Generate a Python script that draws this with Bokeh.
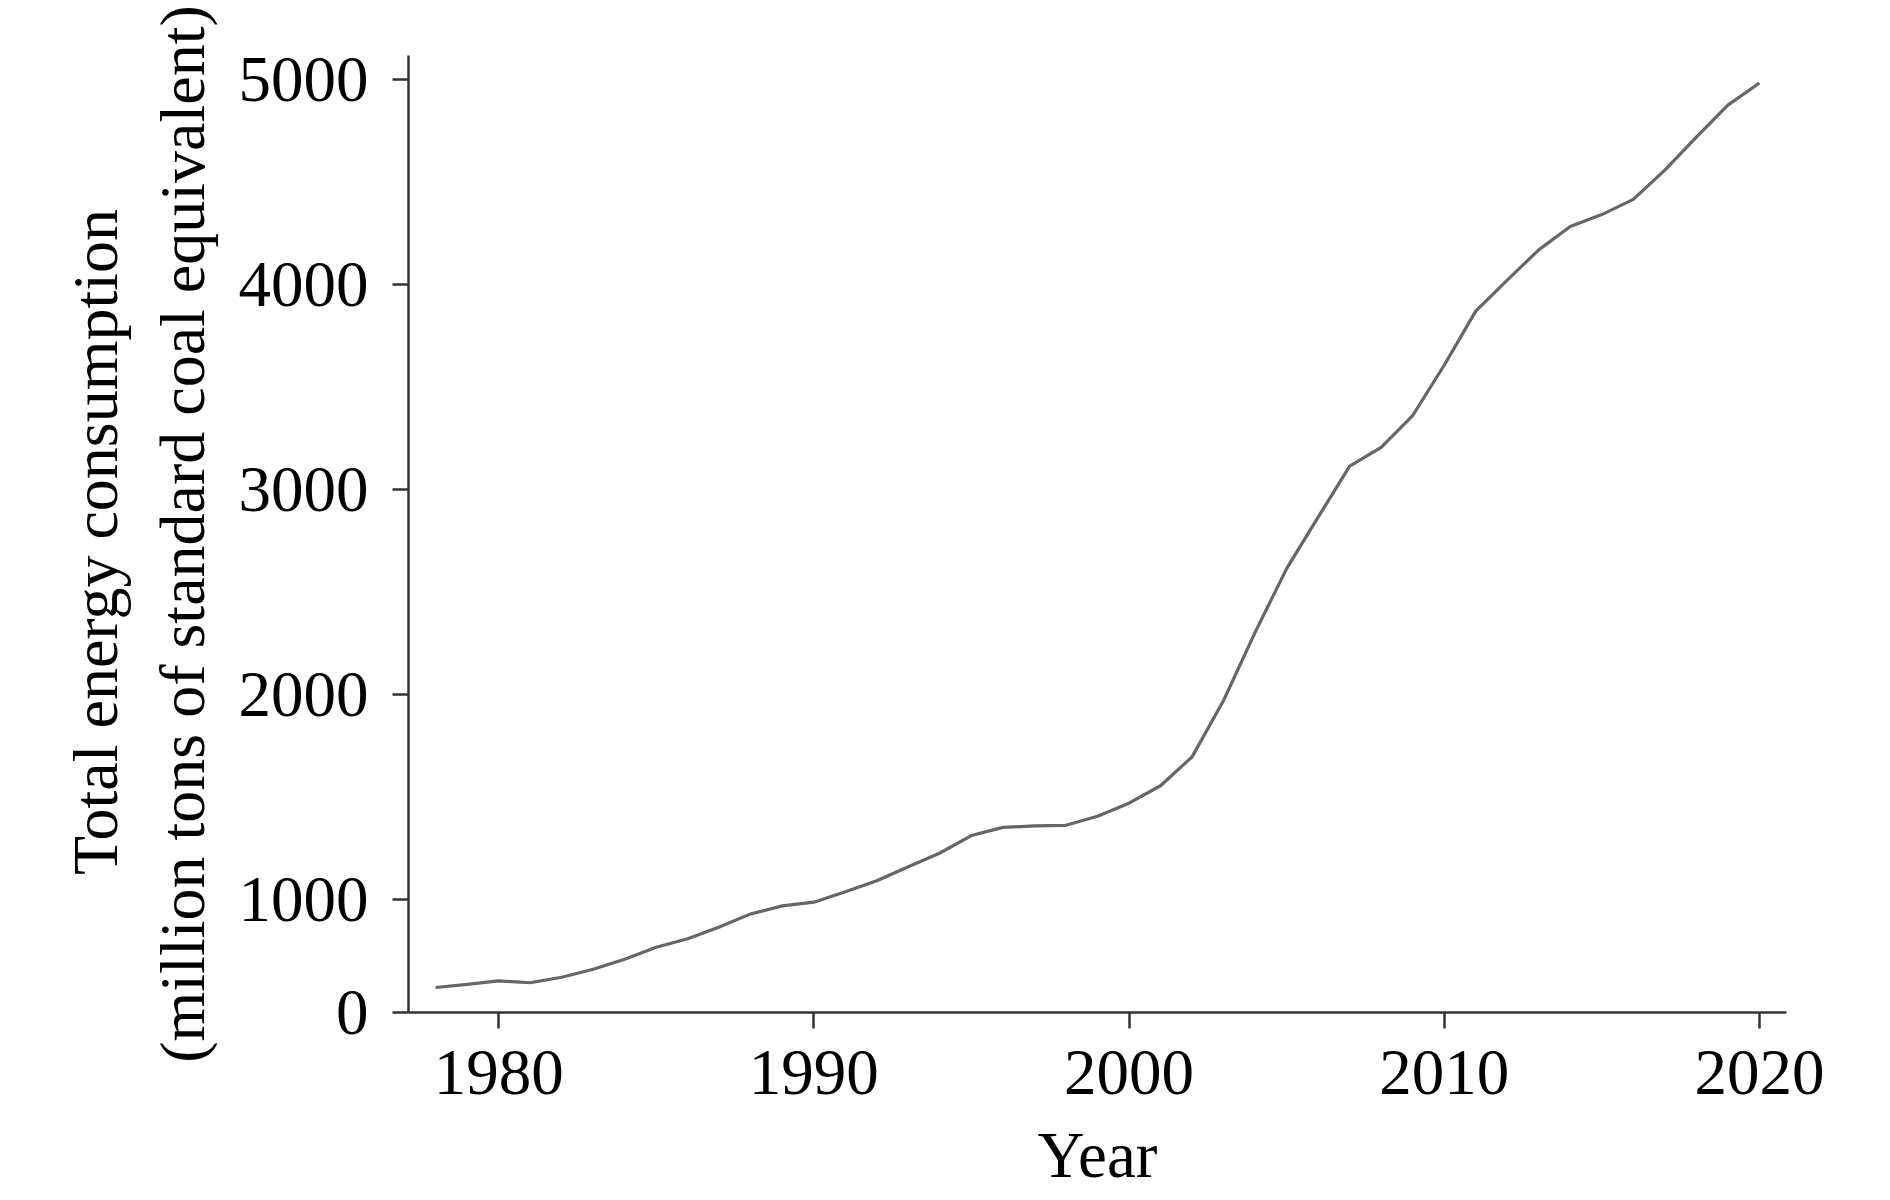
from bokeh.plotting import figure
from bokeh.models import FixedTicker, Range1d
from bokeh.embed import file_html
from bokeh.resources import INLINE

# Data: total energy consumption (million tons of standard coal equivalent)
years = list(range(1978, 2021))
consumption = [571, 586, 603, 594, 621, 660, 709, 767, 809, 866,
               930, 969, 987, 1038, 1092, 1160, 1227, 1312, 1352, 1359,
               1362, 1406, 1470, 1555, 1696, 1971, 2303, 2614, 2865, 3114,
               3206, 3361, 3606, 3870, 4021, 4169, 4283, 4341, 4415, 4558,
               4719, 4875, 4983]
x_ticks = [1980, 1990, 2000, 2010, 2020]
y_ticks = [1000, 2000, 3000, 4000, 5000]
y_bottom_label = "0"

FONT = "Liberation Serif"
Y0, Y1 = 449, 5117
X0, X1 = 1977.14, 2020.86

p = figure(width=1890, height=1200, output_backend="svg", toolbar_location=None,
           x_range=Range1d(X0, X1), y_range=Range1d(Y0, Y1),
           min_border_left=408, min_border_right=104, min_border_top=55,
           min_border_bottom=188)

p.line(years, consumption, line_color="#666666", line_width=3.2)

p.xgrid.visible = False
p.ygrid.visible = False
p.outline_line_color = None
p.background_fill_color = "white"
p.border_fill_color = "white"

p.xaxis.ticker = FixedTicker(ticks=x_ticks)
p.yaxis.ticker = FixedTicker(ticks=[Y0] + y_ticks)
p.yaxis.major_label_overrides = {Y0: y_bottom_label}
p.xaxis.axis_label = "Year"
nb = "\u00a0"
p.yaxis.axis_label = ("Total energy consumption" + nb + "\n"
                      "(million tons of standard coal equivalent)")

for ax in (p.xaxis[0], p.yaxis[0]):
    ax.axis_line_color = "#333333"
    ax.axis_line_width = 2.5
    ax.major_tick_line_color = "#333333"
    ax.major_tick_line_width = 2.5
    ax.major_tick_in = 0
    ax.major_tick_out = 16
    ax.minor_tick_line_color = None
    ax.major_label_text_font = FONT
    ax.major_label_text_font_size = "65px"
    ax.major_label_text_color = "black"
    ax.axis_label_text_font = FONT
    ax.axis_label_text_font_size = "65px"
    ax.axis_label_text_font_style = "normal"
    ax.axis_label_text_color = "black"

p.yaxis.axis_label_text_font_size = "64px"
p.xaxis.major_label_standoff = 22
p.xaxis.axis_label_standoff = 22
p.yaxis.major_label_standoff = 24
p.yaxis.axis_label_standoff = 18
p.yaxis.axis_label_text_line_height = 1.22

open("out.html", "w").write(file_html(p, INLINE))
